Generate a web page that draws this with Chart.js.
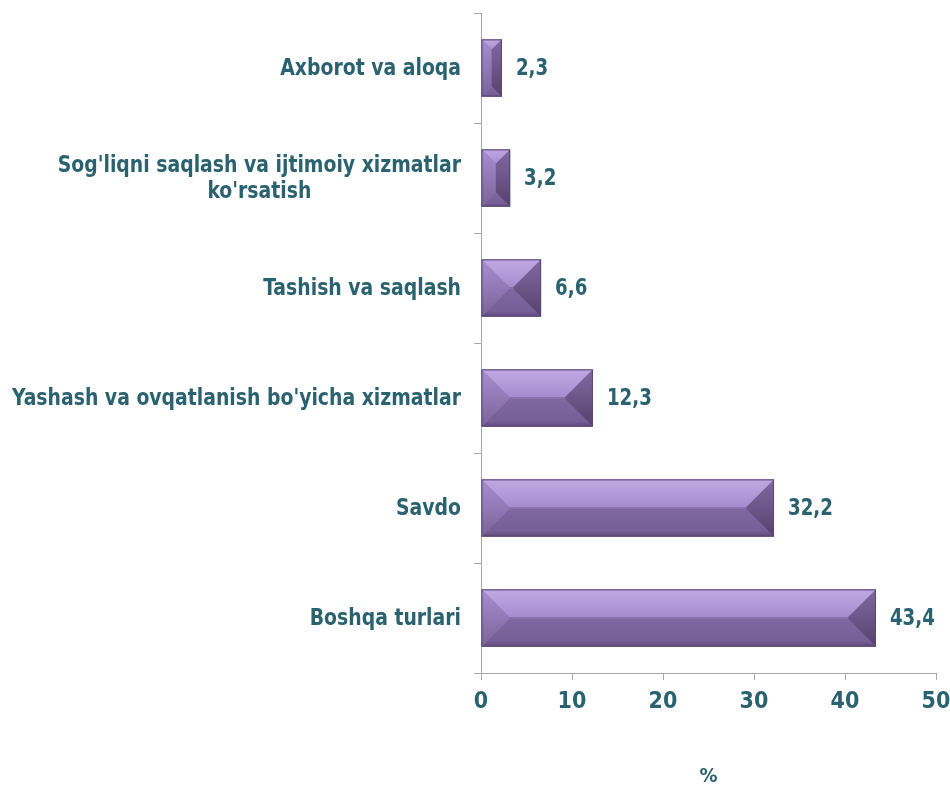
<!DOCTYPE html>
<html>
<head>
<meta charset="utf-8">
<script src="https://cdn.jsdelivr.net/npm/chart.js@4.4.1/dist/chart.umd.min.js"></script>
<style>
  html, body { margin: 0; padding: 0; background: #ffffff; }
  #wrap { width: 950px; height: 789px; position: relative; }
</style>
</head>
<body>
<div id="wrap"><canvas id="chart"></canvas></div>
<script>
// ── data ──
const categories = [
  "Axborot va aloqa",
  ["Sog'liqni saqlash va ijtimoiy xizmatlar", "ko'rsatish"],
  "Tashish va saqlash",
  "Yashash va ovqatlanish bo'yicha xizmatlar",
  "Savdo",
  "Boshqa turlari",
];
const shares = [2.3, 3.2, 6.6, 12.3, 32.2, 43.4];
const xTicks = [0, 10, 20, 30, 40, 50];
const axisTitle = "%";

// ── style ──
const TEXT = "#2b6270";
const AXIS = "#a6a6a6";
const FONT = "'Liberation Sans Narrow', 'DejaVu Sans Condensed', 'Arial Narrow', sans-serif";

Chart.defaults.font.family = FONT;
Chart.defaults.font.weight = "bold";
Chart.defaults.color = TEXT;

// bevelled bars (Excel-like 45° bevel), drawn over each bar element
const bevelPlugin = {
  id: "bevel",
  afterDatasetsDraw(chart) {
    const ctx = chart.ctx;
    chart.getDatasetMeta(0).data.forEach((bar) => {
      const p = bar.getProps(["x", "y", "base", "height"], true);
      const L = Math.min(p.base, p.x), R = Math.max(p.base, p.x);
      const T = p.y - p.height / 2, B = p.y + p.height / 2;
      const w = R - L, h = B - T;
      const b = Math.min(w / 2, h / 2 - 1);
      const poly = (pts, fill) => {
        ctx.beginPath();
        ctx.moveTo(pts[0][0], pts[0][1]);
        pts.slice(1).forEach((q) => ctx.lineTo(q[0], q[1]));
        ctx.closePath();
        ctx.fillStyle = fill;
        ctx.fill();
      };
      ctx.save();
      // face
      poly([[L, T], [R, T], [R, B], [L, B]], "#8a71ad");
      // top bevel
      let g = ctx.createLinearGradient(0, T, 0, T + b);
      g.addColorStop(0, "#c0a8e4");
      g.addColorStop(0.5, "#b49bd9");
      g.addColorStop(1, "#a68cce");
      poly([[L, T], [R, T], [R - b, T + b], [L + b, T + b]], g);
      // bottom bevel
      g = ctx.createLinearGradient(0, B - b, 0, B);
      g.addColorStop(0, "#7f679f");
      g.addColorStop(0.8, "#765e96");
      g.addColorStop(1, "#5e4a7a");
      poly([[L, B], [R, B], [R - b, B - b], [L + b, B - b]], g);
      // left bevel
      g = ctx.createLinearGradient(0, T, 0, B);
      g.addColorStop(0, "#a68dcd");
      g.addColorStop(0.5, "#9279b6");
      g.addColorStop(1, "#7a629a");
      poly([[L, T], [L + b, T + b], [L + b, B - b], [L, B]], g);
      // right bevel
      g = ctx.createLinearGradient(0, T, 0, B);
      g.addColorStop(0, "#80689f");
      g.addColorStop(0.5, "#6c5689");
      g.addColorStop(1, "#54416d");
      poly([[R, T], [R - b, T + b], [R - b, B - b], [R, B]], g);
      // outline
      ctx.strokeStyle = "#5a4877";
      ctx.lineWidth = 1;
      ctx.strokeRect(L + 0.5, T + 0.5, w - 1, h - 1);
      ctx.restore();
    });
  },
};

// value labels at bar end, decimal comma
const valueLabels = {
  id: "valueLabels",
  afterDatasetsDraw(chart) {
    const ctx = chart.ctx;
    chart.getDatasetMeta(0).data.forEach((bar, i) => {
      const txt = shares[i].toFixed(1).replace(".", ",");
      ctx.save();
      ctx.font = "bold 23px " + FONT;
      ctx.fillStyle = TEXT;
      ctx.textAlign = "left";
      ctx.textBaseline = "middle";
      ctx.translate(bar.x + 14, bar.y + 1);
      ctx.scale(0.88, 1);
      ctx.fillText(txt, 0, 0);
      ctx.restore();
    });
  },
};

// category labels: right-aligned block, wrapped lines centered within the block
const categoryLabels = {
  id: "categoryLabels",
  afterDraw(chart) {
    const ctx = chart.ctx;
    const yScale = chart.scales.y;
    const right = chart.chartArea.left - 20;
    const lineH = 26;
    const sx = 0.91;
    categories.forEach((lab, i) => {
      const lines = Array.isArray(lab) ? lab : [lab];
      const cy = yScale.getPixelForValue(i);
      ctx.save();
      ctx.font = "bold 23px " + FONT;
      ctx.fillStyle = TEXT;
      ctx.textBaseline = "middle";
      ctx.translate(right, cy);
      ctx.scale(sx, 1);
      const widest = Math.max(...lines.map((l) => ctx.measureText(l).width));
      lines.forEach((l, k) => {
        const yy = (k - (lines.length - 1) / 2) * lineH + 1;
        if (lines.length > 1) {
          ctx.textAlign = "center";
          ctx.fillText(l, -widest / 2, yy);
        } else {
          ctx.textAlign = "right";
          ctx.fillText(l, 0, yy);
        }
      });
      ctx.restore();
    });
  },
};

new Chart(document.getElementById("chart"), {
  type: "bar",
  data: {
    labels: categories,
    datasets: [
      {
        data: shares,
        backgroundColor: "#8a71ad",
        borderWidth: 0,
        barPercentage: 0.52,
        categoryPercentage: 1,
      },
    ],
  },
  options: {
    indexAxis: "y",
    responsive: true,
    maintainAspectRatio: false,
    animation: false,
    layout: { padding: { top: 13, right: 14, left: 0, bottom: 0 } },
    plugins: { legend: { display: false }, tooltip: { enabled: false } },
    scales: {
      x: {
        min: 0,
        max: 50,
        afterBuildTicks: (s) => { s.ticks = xTicks.map((v) => ({ value: v })); },
        grid: { drawOnChartArea: false, color: AXIS, tickLength: 7, tickColor: AXIS },
        border: { color: AXIS, width: 1 },
        ticks: { font: { size: 23, weight: "bold" }, color: TEXT, padding: 8 },
        title: { display: true, text: axisTitle, font: { size: 20, weight: "bold" }, color: TEXT, padding: { top: 50, bottom: 0 } },
        afterFit: (s) => { s.height = 116; s.paddingRight = 14; s.paddingLeft = 0; },
      },
      y: {
        grid: { drawOnChartArea: false, offset: true, color: AXIS, tickLength: 7, tickColor: AXIS },
        border: { color: AXIS, width: 1 },
        ticks: { display: false },
        afterFit: (s) => { s.width = 481; },
      },
    },
  },
  plugins: [bevelPlugin, valueLabels, categoryLabels],
});
</script>
</body>
</html>
